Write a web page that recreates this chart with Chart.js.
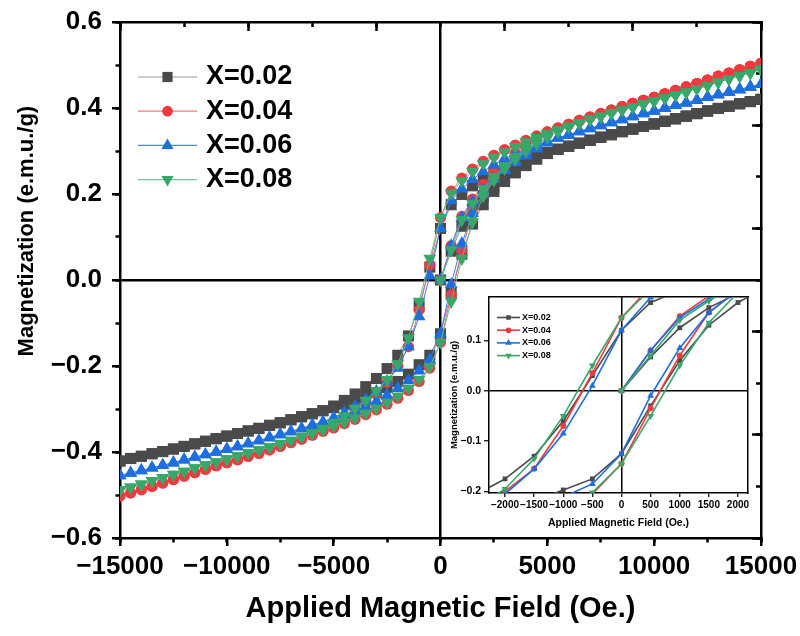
<!DOCTYPE html>
<html>
<head>
<meta charset="utf-8">
<title>Hysteresis loops</title>
<script src="https://cdn.jsdelivr.net/npm/chart.js@4.4.1/dist/chart.umd.min.js"></script>
<style>
html, body { margin: 0; padding: 0; background: #fff; }
#wrap { position: relative; width: 800px; height: 636px; }
#main { position: absolute; left: 0; top: 0; }
#inset { position: absolute; left: 440px; top: 285px; }
</style>
</head>
<body>
<div id="wrap">
<canvas id="main" width="800" height="636"></canvas>
<canvas id="inset" width="320" height="250"></canvas>
</div>
<script>
// series names
const seriesNames = ['X=0.02', 'X=0.04', 'X=0.06', 'X=0.08'];

// applied field (Oe.) : virgin curve, then 15000 -> -15000, then back up
const fieldVirgin = [0, 500, 1000, 1500, 2000, 2500, 3000, 3500, 4000, 4500, 5000,
  5500, 6000, 6500, 7000, 7500, 8000, 8500, 9000, 9500, 10000,
  10500, 11000, 11500, 12000, 12500, 13000, 13500, 14000, 14500, 15000];
const fieldDown = [15000, 14500, 14000, 13500, 13000, 12500, 12000, 11500, 11000, 10500,
  10000, 9500, 9000, 8500, 8000, 7500, 7000, 6500, 6000, 5500,
  5000, 4500, 4000, 3500, 3000, 2500, 2000, 1500, 1000, 500, 0,
  -500, -1000, -1500, -2000, -2500, -3000, -3500, -4000, -4500, -5000,
  -5500, -6000, -6500, -7000, -7500, -8000, -8500, -9000, -9500, -10000,
  -10500, -11000, -11500, -12000, -12500, -13000, -13500, -14000, -14500, -15000];
const fieldUp = fieldDown.slice().reverse();

// inset tick labels
const insetFieldTicks = [-2000, -1500, -1000, -500, 0, 500, 1000, 1500, 2000];
const insetMagTicks = [-0.2, -0.1, 0, 0.1];

// magnetization (e.m.u./g)
const virgin002 = [0, .067, .125, .165, .193, .216, .236, .253, .268, .282, .295,
  .304, .311, .318, .325, .332, .338, .345, .351, .357, .363,
  .369, .375, .381, .387, .393, .399, .404, .410, .415, .420];
const down002 = [.420, .415, .410, .404, .399, .393, .387, .381, .375, .369,
  .363, .357, .351, .345, .338, .332, .325, .318, .311, .304,
  .297, .289, .281, .272, .262, .250, .236, .219, .199, .175, .120,
  .030, -.060, -.130, -.175, -.206, -.229, -.248, -.265, -.280, -.293,
  -.304, -.311, -.318, -.325, -.332, -.338, -.345, -.351, -.357, -.363,
  -.369, -.375, -.381, -.387, -.393, -.399, -.404, -.410, -.415, -.421];
const up002 = [-.421, -.415, -.410, -.404, -.399, -.393, -.387, -.381, -.375, -.369,
  -.363, -.357, -.351, -.345, -.338, -.332, -.325, -.318, -.311, -.304,
  -.297, -.289, -.281, -.272, -.262, -.250, -.236, -.219, -.197, -.175, -.125,
  -.030, .060, .130, .175, .206, .229, .249, .266, .281, .294,
  .304, .311, .318, .325, .332, .338, .345, .351, .357, .363,
  .369, .375, .381, .387, .393, .399, .404, .410, .415, .420];

const virgin004 = [0, .080, .148, .188, .222, .250, .274, .295, .313, .328, .342,
  .353, .362, .371, .379, .387, .395, .403, .411, .418, .425,
  .433, .441, .449, .457, .465, .474, .481, .489, .497, .504];
const down004 = [.504, .497, .489, .481, .474, .465, .457, .449, .441, .433,
  .425, .418, .411, .403, .395, .387, .379, .371, .362, .354,
  .345, .335, .325, .314, .303, .290, .276, .258, .237, .207, .145,
  .035, -.070, -.155, -.200, -.238, -.265, -.287, -.306, -.322, -.337,
  -.350, -.360, -.370, -.378, -.387, -.395, -.403, -.410, -.418, -.425,
  -.432, -.440, -.448, -.456, -.464, -.472, -.480, -.487, -.495, -.502];
const up004 = [-.502, -.495, -.488, -.480, -.472, -.464, -.456, -.448, -.440, -.432,
  -.425, -.418, -.410, -.403, -.395, -.387, -.378, -.370, -.361, -.352,
  -.344, -.334, -.324, -.313, -.302, -.289, -.275, -.257, -.236, -.205, -.145,
  -.035, .070, .155, .200, .237, .266, .290, .309, .325, .339,
  .352, .362, .371, .379, .387, .395, .403, .411, .418, .425,
  .433, .441, .449, .457, .465, .474, .481, .489, .497, .504];

const virgin006 = [0, .080, .145, .182, .210, .234, .255, .273, .289, .305, .319,
  .330, .337, .345, .352, .359, .366, .373, .380, .387, .393,
  .400, .406, .412, .418, .425, .431, .437, .443, .449, .455];
const down006 = [.455, .449, .443, .437, .431, .425, .418, .412, .406, .400,
  .393, .387, .380, .373, .366, .359, .352, .345, .337, .330,
  .322, .313, .304, .294, .282, .268, .252, .234, .212, .185, .120,
  .010, -.085, -.155, -.205, -.236, -.259, -.278, -.294, -.308, -.320,
  -.331, -.338, -.346, -.353, -.360, -.367, -.374, -.381, -.388, -.394,
  -.400, -.406, -.412, -.418, -.425, -.431, -.437, -.443, -.449, -.455];
const up006 = [-.455, -.449, -.443, -.437, -.431, -.425, -.418, -.412, -.406, -.400,
  -.393, -.387, -.380, -.373, -.366, -.359, -.352, -.345, -.337, -.330,
  -.322, -.313, -.304, -.294, -.282, -.268, -.252, -.234, -.211, -.185, -.125,
  -.010, .085, .155, .200, .234, .258, .278, .294, .308, .320,
  .331, .338, .346, .353, .360, .367, .374, .381, .388, .394,
  .400, .406, .412, .418, .425, .431, .437, .443, .449, .455];

const virgin008 = [0, .070, .140, .178, .212, .240, .265, .287, .307, .324, .338,
  .349, .357, .365, .373, .380, .388, .395, .402, .409, .416,
  .423, .430, .437, .445, .452, .460, .468, .475, .482, .490];
const down008 = [.490, .482, .475, .468, .460, .452, .445, .437, .430, .423,
  .416, .409, .402, .395, .388, .380, .373, .365, .357, .349,
  .340, .331, .321, .310, .298, .285, .270, .252, .231, .202, .145,
  .050, -.050, -.135, -.195, -.232, -.258, -.280, -.299, -.316, -.331,
  -.345, -.355, -.364, -.373, -.381, -.388, -.395, -.402, -.409, -.416,
  -.423, -.430, -.437, -.445, -.452, -.460, -.467, -.475, -.482, -.488];
const up008 = [-.488, -.482, -.475, -.467, -.460, -.452, -.445, -.437, -.430, -.423,
  -.416, -.409, -.402, -.395, -.388, -.380, -.373, -.365, -.357, -.349,
  -.340, -.331, -.321, -.310, -.298, -.285, -.270, -.252, -.231, -.202, -.145,
  -.050, .050, .135, .195, .232, .259, .281, .300, .317, .332,
  .345, .356, .365, .374, .381, .388, .395, .402, .409, .416,
  .423, .430, .437, .445, .452, .460, .468, .475, .482, .490];

const branches = [
  [virgin002, down002, up002],
  [virgin004, down004, up004],
  [virgin006, down006, up006],
  [virgin008, down008, up008]
];

const markerColors = ['#4a4a4a', '#ef3b40', '#1d6fe0', '#38a86a'];
const lineColors = ['#8a8a8a', '#f06a6d', '#3b7fe3', '#62bd8a'];
const pointStyles = ['rect', 'circle', 'triangle', 'triangle'];
const pointRotations = [0, 0, 0, 180];
const mainRadius = [7.8, 5.6, 7.4, 7.4];
const insetRadius = [3.4, 3.0, 4.0, 4.0];

const FONT = "'Liberation Sans', Arial, sans-serif";
Chart.defaults.font.family = FONT;
Chart.defaults.color = '#000';

// measurement path: virgin, descending, ascending
function loopPoints(b) {
  return fieldVirgin.map((h, i) => ({ x: h, y: b[0][i] }))
    .concat(fieldDown.map((h, i) => ({ x: h, y: b[1][i] })))
    .concat(fieldUp.map((h, i) => ({ x: h, y: b[2][i] })));
}

function fmt(v, d) {
  if (Math.abs(v) < 1e-9) v = 0;
  const s = d === undefined ? String(Math.round(v)) : v.toFixed(d);
  return s.replace('-', '\u2212');
}

function makeDatasets(radius, lineWidth, lineCol) {
  return seriesNames.map((name, i) => ({
    label: name,
    data: loopPoints(branches[i]),
    xAxisID: 'x',
    yAxisID: 'y',
    borderColor: lineCol[i],
    borderWidth: lineWidth,
    backgroundColor: markerColors[i],
    pointBackgroundColor: markerColors[i],
    pointBorderWidth: 0,
    pointRadius: radius[i],
    pointHoverRadius: radius[i],
    pointStyle: pointStyles[i],
    rotation: pointRotations[i],
    showLine: true,
    tension: 0,
    order: 4 - i
  }));
}

// legend drawn inside the plot: short line with marker, then the label
function boxLegend(cfg) {
  return {
    id: 'boxLegend',
    afterDatasetsDraw(chart) {
      const ctx = chart.ctx;
      ctx.save();
      seriesNames.forEach((name, i) => {
        const y = cfg.y + i * cfg.gap;
        ctx.strokeStyle = cfg.lineCol[i];
        ctx.lineWidth = cfg.lineWidth;
        ctx.beginPath();
        ctx.moveTo(cfg.x, y);
        ctx.lineTo(cfg.x + cfg.len, y);
        ctx.stroke();
        ctx.fillStyle = markerColors[i];
        Chart.helpers.drawPoint(ctx, {
          pointStyle: pointStyles[i],
          radius: cfg.radius[i],
          rotation: pointRotations[i],
          borderWidth: 0
        }, cfg.x + cfg.len / 2, y);
        ctx.fillStyle = '#000';
        ctx.font = cfg.font;
        ctx.textAlign = 'left';
        ctx.textBaseline = 'middle';
        ctx.fillText(name, cfg.x + cfg.len + cfg.pad, y);
      });
      ctx.restore();
    }
  };
}

function fixW(w) { return s => { s.width = w; s.paddingTop = 0; s.paddingBottom = 0; }; }
function fixH(h) { return s => { s.height = h; s.paddingLeft = 0; s.paddingRight = 0; }; }
function useTicks(list) { return s => { s.ticks = list.map(v => ({ value: v })); }; }

const zeroLine = c => (Math.abs(c.tick.value) < 1e-9 ? '#000' : 'rgba(0,0,0,0)');

// frame axes without labels (inward ticks on top/right)
function frameAxis(pos, step, tick, border) {
  const horiz = pos === 'top';
  return {
    type: 'linear', axis: horiz ? 'x' : 'y', position: pos,
    min: 0, max: 10, weight: 0,
    ticks: { display: false, stepSize: step },
    grid: { drawOnChartArea: false, drawTicks: tick !== 0, tickLength: tick, tickColor: '#000', tickWidth: 2.5 },
    border: { display: border, color: '#000', width: 2.5 },
    afterFit: horiz ? fixH(0) : fixW(0)
  };
}

// ---- main chart
new Chart(document.getElementById('main'), {
  type: 'scatter',
  data: { datasets: makeDatasets(mainRadius, 1, lineColors) },
  options: {
    responsive: false,
    devicePixelRatio: 1,
    animation: false,
    layout: { padding: { top: 22, right: 39, bottom: 0, left: 0 } },
    plugins: { legend: { display: false }, tooltip: { enabled: false } },
    scales: {
      x: {
        type: 'linear', position: 'bottom', weight: 1,
        min: -15000, max: 15000,
        ticks: {
          stepSize: 5000, includeBounds: false, autoSkip: false, maxRotation: 0,
          padding: 5, font: { size: 26, weight: 'bold' },
          callback: v => fmt(v)
        },
        grid: { color: zeroLine, lineWidth: 2.5, tickColor: '#000', tickWidth: 2.5, tickLength: 8 },
        border: { display: true, color: '#000', width: 2.5 },
        title: {
          display: true, text: 'Applied Magnetic Field (Oe.)',
          font: { size: 29, weight: 'bold' }, padding: { top: 0, bottom: 10 }
        },
        afterFit: fixH(98)
      },
      y: {
        type: 'linear', position: 'left', weight: 1,
        min: -0.6, max: 0.6,
        ticks: {
          stepSize: 0.2, includeBounds: false, padding: 10,
          font: { size: 26, weight: 'bold' },
          callback: v => fmt(v, 1)
        },
        grid: { color: zeroLine, lineWidth: 2.5, tickColor: '#000', tickWidth: 2.5, tickLength: 8 },
        border: { display: true, color: '#000', width: 2.5 },
        title: {
          display: true,
          text: '\u00a0'.repeat(16) + 'Magnetization (e.m.u./g)',
          font: { size: 22, weight: 'bold' }, padding: { top: 14, bottom: 0 }
        },
        afterFit: fixW(120)
      },
      xm: {
        type: 'linear', axis: 'x', position: 'bottom', weight: 0,
        min: -15000, max: 15000,
        ticks: { display: false, stepSize: 2500 },
        grid: { drawOnChartArea: false, tickLength: 4.5, tickColor: '#000', tickWidth: 2.5 },
        border: { display: false },
        afterFit: fixH(0)
      },
      ym: {
        type: 'linear', axis: 'y', position: 'left', weight: 0,
        min: -0.6, max: 0.6,
        ticks: { display: false, stepSize: 0.1 },
        grid: { drawOnChartArea: false, tickLength: 4.5, tickColor: '#000', tickWidth: 2.5 },
        border: { display: false },
        afterFit: fixW(0)
      },
      xt1: frameAxis('top', 2, -9, true),
      xt2: frameAxis('top', 1, -5, false),
      yr1: frameAxis('right', 2, -9, true),
      yr2: frameAxis('right', 1, -5, false)
    }
  },
  plugins: [boxLegend({
    x: 138, y: 77, gap: 34.2, len: 59, pad: 9, lineWidth: 1.2,
    lineCol: ['#9a9a9a', '#f07a7c', '#4a88e6', '#72c798'],
    radius: [7.2, 5.4, 7.0, 7.0],
    font: 'bold 27px ' + FONT
  })]
});

// ---- inset: zoom on the coercive region
new Chart(document.getElementById('inset'), {
  type: 'scatter',
  data: { datasets: makeDatasets(insetRadius, 1.6, markerColors) },
  options: {
    responsive: false,
    devicePixelRatio: 1,
    animation: false,
    layout: { padding: { top: 12, right: 12, bottom: 0, left: 0 } },
    plugins: { legend: { display: false }, tooltip: { enabled: false } },
    scales: {
      x: {
        type: 'linear', position: 'bottom',
        min: -2275, max: 2172,
        afterBuildTicks: useTicks(insetFieldTicks),
        ticks: {
          autoSkip: false, maxRotation: 0,
          padding: 2, font: { size: 10, weight: 'bold' },
          callback: v => fmt(v)
        },
        grid: { color: zeroLine, lineWidth: 1.5, tickColor: '#000', tickWidth: 1.2, tickLength: 4 },
        border: { display: true, color: '#000', width: 1.5 },
        title: {
          display: true, text: 'Applied Magnetic Field (Oe.)',
          font: { size: 10.5, weight: 'bold' }, padding: { top: 0, bottom: 6 }
        },
        afterFit: fixH(42)
      },
      y: {
        type: 'linear', position: 'left',
        min: -0.203, max: 0.186,
        afterBuildTicks: useTicks(insetMagTicks),
        ticks: {
          padding: 3,
          font: { size: 10.5, weight: 'bold' },
          callback: v => fmt(v, 1)
        },
        grid: { color: zeroLine, lineWidth: 1.5, tickColor: '#000', tickWidth: 1.2, tickLength: 5 },
        border: { display: true, color: '#000', width: 1.5 },
        title: {
          display: true, text: 'Magnetization (e.m.u./g)',
          font: { size: 9.5, weight: 'bold' }, padding: { top: 9, bottom: 0 }
        },
        afterFit: fixW(49)
      },
      xt: {
        type: 'linear', axis: 'x', position: 'top', min: 0, max: 1,
        ticks: { display: false },
        grid: { drawOnChartArea: false, drawTicks: false },
        border: { display: true, color: '#000', width: 1.5 },
        afterFit: fixH(0)
      },
      yr: {
        type: 'linear', axis: 'y', position: 'right', min: 0, max: 1,
        ticks: { display: false },
        grid: { drawOnChartArea: false, drawTicks: false },
        border: { display: true, color: '#000', width: 1.5 },
        afterFit: fixW(0)
      }
    }
  },
  plugins: [boxLegend({
    x: 57, y: 32.5, gap: 12.7, len: 23, pad: 2, lineWidth: 1.6,
    lineCol: markerColors,
    radius: [3.2, 2.8, 3.8, 3.8],
    font: 'bold 9px ' + FONT
  })]
});
</script>
</body>
</html>
